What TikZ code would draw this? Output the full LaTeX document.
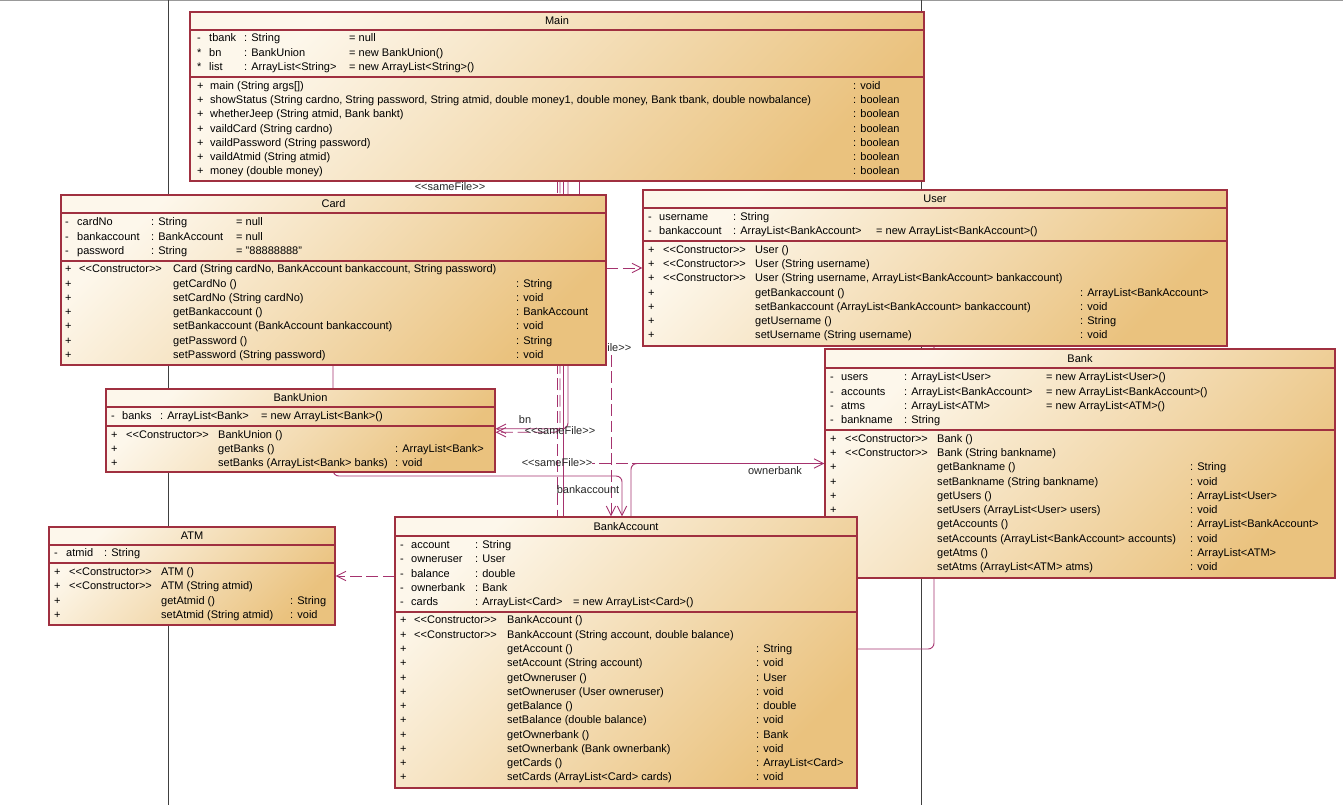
\documentclass[tikz,border=0pt]{standalone}
\usepackage{fontspec}
\setmainfont{Liberation Sans}
\usetikzlibrary{arrows.meta, positioning, fit, backgrounds}
\definecolor{umlred}{RGB}{160,48,64}
\definecolor{umllink}{RGB}{165,50,110}
\definecolor{umllight}{RGB}{253,247,235}
\definecolor{umldark}{RGB}{234,194,126}

\newcommand{\stcon}{<\kern0pt<Constructor>\kern0pt>}
\newcommand{\stsame}{<\kern0pt<sameFile>\kern0pt>}

% box: name, x1, y1, x2, y2, title, first and second separator
\newcommand{\umlclass}[8]{%
  \node[classbox, fit={(#2,#3) (#4,#5)}] (#1) {};
  \node[titletext] (#1-title) at ({(#2+#4)/2},{(#3+#7)/2}) {#6};
  \draw[sepline] (#2,#7) -- (#4,#7) (#2,#8) -- (#4,#8);
}
% attributes: name, x of visibility, name, type, default
\newcommand{\umlattrs}[6]{%
  \foreach \y/\v/\n/\t/\d [count=\i] in {#6} {
    \node[rowtext] (#1-av\i) at (#2,\y) {\v};
    \node[rowtext] (#1-an\i) at (#3,\y) {\n};
    \node[rowtext] (#1-at\i) at (#4,\y) {\t};
    \node[rowtext] (#1-ad\i) at (#5,\y) {\d};
  }}
% operations: name, x of visibility, stereotype, signature, return type
\newcommand{\umlops}[6]{%
  \foreach \y/\c/\n/\r [count=\i] in {#6} {
    \node[rowtext] (#1-ov\i) at (#2,\y) {+};
    \node[rowtext] (#1-oc\i) at (#3,\y) {\c};
    \node[rowtext] (#1-on\i) at (#4,\y) {\n};
    \node[rowtext] (#1-or\i) at (#5,\y) {\r};
  }}

\begin{document}
\begin{tikzpicture}[x=0.03cm, y=-0.03cm,
  classbox/.style={draw=umlred, line width=1pt, inner sep=0pt,
    top color=umllight, bottom color=umldark, shading angle=45},
  sepline/.style={draw=umlred, line width=1pt},
  titletext/.style={font=\fontsize{9.4}{11}\selectfont, inner sep=0pt},
  rowtext/.style={font=\fontsize{9.4}{11}\selectfont, anchor=mid west, inner sep=0pt, yshift=-0.5pt},
  linktext/.style={font=\fontsize{9.4}{11}\selectfont, inner sep=0pt, text=black!85},
  link/.style={draw=umllink, line width=0.8pt, rounded corners=5pt},
  assoc/.style={link, -{Straight Barb[length=8pt,width=8pt]}},
  depend/.style={assoc, dash pattern=on 10pt off 4pt},
  pageline/.style={draw=black!75, line width=0.6pt}]
  \useasboundingbox (0,0) rectangle (1343,805);

  % Main
  \umlclass{main}{190}{12}{924}{181}{Main}{30}{77}
  \umlattrs{main}{197}{209}{244}{349}{38/-/tbank/{: String}/{= null},
    53/*/bn/{: BankUnion}/{= new BankUnion()},
    67/*/list/{: ArrayList<String>}/{= new ArrayList<String>()}}
  \umlops{main}{197}{210}{210}{853}{86//{main (String args[])}/{: void},
    100//{showStatus (String cardno, String password, String atmid, double money1, double money, Bank tbank, double nowbalance)}/{: boolean},
    114//{whetherJeep (String atmid, Bank bankt)}/{: boolean},
    129//{vaildCard (String cardno)}/{: boolean},
    143//{vaildPassword (String password)}/{: boolean},
    157//{vaildAtmid (String atmid)}/{: boolean},
    171//{money (double money)}/{: boolean}}

  % User
  \umlclass{user}{643}{190}{1227}{346}{User}{208}{241}
  \umlattrs{user}{648}{659}{733}{876}{217/-/username/{: String}/,
    231/-/bankaccount/{: ArrayList<BankAccount>}/{= new ArrayList<BankAccount>()}}
  \umlops{user}{648}{663}{755}{1080}{250/\stcon/{User ()}/,
    264/\stcon/{User (String username)}/,
    278/\stcon/{User (String username, ArrayList<BankAccount> bankaccount)}/,
    293//{getBankaccount ()}/{: ArrayList<BankAccount>},
    307//{setBankaccount (ArrayList<BankAccount> bankaccount)}/{: void},
    321//{getUsername ()}/{: String},
    335//{setUsername (String username)}/{: void}}

  % Bank
  \umlclass{bank}{825}{349}{1335}{578}{Bank}{368}{430}
  \umlattrs{bank}{830}{841}{904}{1046}{377/-/users/{: ArrayList<User>}/{= new ArrayList<User>()},
    392/-/accounts/{: ArrayList<BankAccount>}/{= new ArrayList<BankAccount>()},
    406/-/atms/{: ArrayList<ATM>}/{= new ArrayList<ATM>()},
    420/-/bankname/{: String}/}
  \umlops{bank}{830}{845}{937}{1190}{439/\stcon/{Bank ()}/,
    453/\stcon/{Bank (String bankname)}/,
    467//{getBankname ()}/{: String},
    482//{setBankname (String bankname)}/{: void},
    496//{getUsers ()}/{: ArrayList<User>},
    510//{setUsers (ArrayList<User> users)}/{: void},
    524//{getAccounts ()}/{: ArrayList<BankAccount>},
    539//{setAccounts (ArrayList<BankAccount> accounts)}/{: void},
    553//{getAtms ()}/{: ArrayList<ATM>},
    567//{setAtms (ArrayList<ATM> atms)}/{: void}}

  % Card
  \umlclass{card}{61}{195}{606}{365}{Card}{213}{261}
  \umlattrs{card}{65}{77}{151}{236}{222/-/cardNo/{: String}/{= null},
    237/-/bankaccount/{: BankAccount}/{= null},
    251/-/password/{: String}/{= "88888888"}}
  \umlops{card}{65}{79}{173}{516}{269/\stcon/{Card (String cardNo, BankAccount bankaccount, String password)}/,
    284//{getCardNo ()}/{: String},
    298//{setCardNo (String cardNo)}/{: void},
    312//{getBankaccount ()}/{: BankAccount},
    326//{setBankaccount (BankAccount bankaccount)}/{: void},
    341//{getPassword ()}/{: String},
    355//{setPassword (String password)}/{: void}}

  % BankUnion
  \umlclass{bankunion}{106}{389}{495}{472}{BankUnion}{407}{426}
  \umlattrs{bankunion}{111}{122}{160}{261}{416/-/banks/{: ArrayList<Bank>}/{= new ArrayList<Bank>()}}
  \umlops{bankunion}{111}{126}{218}{395}{435/\stcon/{BankUnion ()}/,
    449//{getBanks ()}/{: ArrayList<Bank>},
    463//{setBanks (ArrayList<Bank> banks)}/{: void}}

  % ATM
  \umlclass{atm}{49}{527}{335}{625}{ATM}{545}{563}
  \umlattrs{atm}{54}{66}{104}{104}{553/-/atmid/{: String}/}
  \umlops{atm}{54}{69}{161}{290}{572/\stcon/{ATM ()}/,
    586/\stcon/{ATM (String atmid)}/,
    601//{getAtmid ()}/{: String},
    615//{setAtmid (String atmid)}/{: void}}

  % BankAccount
  \umlclass{bankaccount}{395}{517}{857}{788}{BankAccount}{536}{612}
  \umlattrs{bankaccount}{400}{411}{475}{573}{545/-/account/{: String}/,
    559/-/owneruser/{: User}/,
    574/-/balance/{: double}/,
    588/-/ownerbank/{: Bank}/,
    602/-/cards/{: ArrayList<Card>}/{= new ArrayList<Card>()}}
  \umlops{bankaccount}{400}{414}{507}{756}{620/\stcon/{BankAccount ()}/,
    635/\stcon/{BankAccount (String account, double balance)}/,
    649//{getAccount ()}/{: String},
    663//{setAccount (String account)}/{: void},
    678//{getOwneruser ()}/{: User},
    692//{setOwneruser (User owneruser)}/{: void},
    706//{getBalance ()}/{: double},
    720//{setBalance (double balance)}/{: void},
    735//{getOwnerbank ()}/{: Bank},
    749//{setOwnerbank (Bank ownerbank)}/{: void},
    763//{getCards ()}/{: ArrayList<Card>},
    777//{setCards (ArrayList<Card> cards)}/{: void}}

  % connectors go under the boxes
  \begin{scope}[on background layer]
    \draw[draw=black!40, line width=1pt] (0,0.5) -- (1343,0.5);
    \draw[pageline] (168,0) -- (168,805) (921,0) -- (921,805);
    \foreach \xx in {333,557,560,563,568,579,592,611,622,631,934}
      \coordinate (x\xx) at (\xx,0);
    \coordinate (y476) at (0,476);
    \coordinate (y649) at (0,649);
    \coordinate (samefree) at (611,355);

    \draw[depend] (card.east |- user.west) -- (user.west);
    \draw[link] (main.south -| x579) -- (card.north -| x579);
    \draw[link, dash pattern=on 10pt off 4pt] (main.south -| x557) -- (bankaccount.north -| x557);
    \draw[link] (main.south -| x563) -- (bankaccount.north -| x563);
    \draw[assoc] (main.south -| x568) |- ([yshift=1.5pt]bankunion.east);
    \draw[depend] (main.south -| x560) |- ([yshift=-1.5pt]bankunion.east);
    \draw[depend] (samefree) -- (bankaccount.north -| x611);
    \draw[assoc] (card.south -| x333) |- (y476 -| x622) -- (bankaccount.north -| x622);
    \draw[assoc] (bankaccount.north -| x631) |- (bank.west);
    \draw[link, dash pattern=on 10pt off 4pt] (bank.west) -- (x592 |- bank.west);
    \draw[assoc] (bankaccount.east |- y649) -| (user.south -| x934);
    \draw[depend] (bankaccount.west |- atm.east) -- (atm.east);

    \node[linktext] (same-main) at (450,187) {\stsame};
    \node[linktext] (same-card) at (596,348) {\stsame};
    \node[linktext] (lbl-bn) at (525,420) {bn};
    \node[linktext] (same-union) at (560,431) {\stsame};
    \node[linktext] (same-bank) at (557,463) {\stsame};
    \node[linktext] (lbl-bankaccount) at (588,490) {bankaccount};
    \node[linktext] (lbl-ownerbank) at (775,471) {ownerbank};
  \end{scope}
\end{tikzpicture}
\end{document}
